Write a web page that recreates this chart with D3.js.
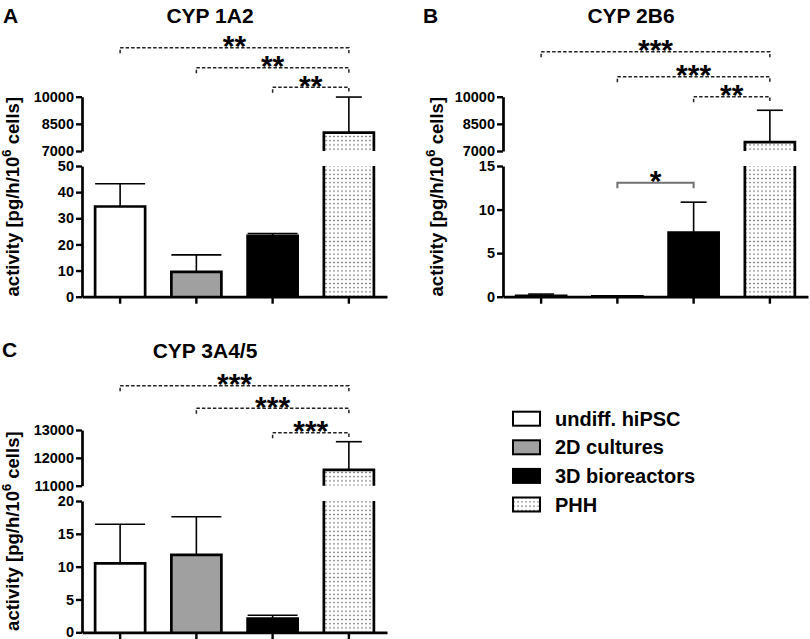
<!DOCTYPE html>
<html>
<head>
<meta charset="utf-8">
<script src="https://cdn.jsdelivr.net/npm/d3@7"></script>
<style>
  body { margin: 0; background: #fff; }
  text { font-family: "Liberation Sans", Arial, Helvetica, sans-serif; font-weight: bold; fill: #000; }
</style>
</head>
<body>
<script>
// groups shared by all three panels
var groups = ["undiff. hiPSC", "2D cultures", "3D bioreactors", "PHH"];

// CYP 1A2
var meanA = [34.5, 9.5, 23.3, 8010];
var sdA = [8.7, 6.5, 0.9, 1970];
var lowDomA = [0, 50], highDomA = [7000, 10000];
var lowTicksA = [0, 10, 20, 30, 40, 50], highTicksA = [7000, 8500, 10000];
var sigA = [[0, 3, "**"], [1, 3, "**"], [2, 3, "**"]];

// CYP 2B6
var meanB = [0.1, 0.04, 7.35, 7490];
var sdB = [0.2, 0.02, 3.5, 1760];
var lowDomB = [0, 15], highDomB = [7000, 10000];
var lowTicksB = [0, 5, 10, 15], highTicksB = [7000, 8500, 10000];
var sigB = [[0, 3, "***"], [1, 3, "***"], [2, 3, "**"], [1, 2, "*"]];

// CYP 3A4/5
var meanC = [10.5, 11.8, 2.1, 11565];
var sdC = [5.95, 5.8, 0.5, 1015];
var lowDomC = [0, 20], highDomC = [11000, 13000];
var lowTicksC = [0, 5, 10, 15, 20], highTicksC = [11000, 12000, 13000];
var sigC = [[0, 3, "***"], [1, 3, "***"], [2, 3, "***"]];

var fills = ["#ffffff", "#a0a0a0", "#000000", "url(#dots)"];

var panels = [
  { letter: "A", title: "CYP 1A2", mean: meanA, sd: sdA, low: lowDomA, high: highDomA,
    lowTicks: lowTicksA, highTicks: highTicksA, sig: sigA,
    x: 82, hiY: [96.7, 151], loY: [166, 296.7], titleX: 210, titleY: 23, letterX: 3, letterY: 23,
    labelX: 19, cap: 25, bracketY: [47.7, 67.7, 87.3] },
  { letter: "B", title: "CYP 2B6", mean: meanB, sd: sdB, low: lowDomB, high: highDomB,
    lowTicks: lowTicksB, highTicks: highTicksB, sig: sigB,
    x: 503, hiY: [96.7, 151], loY: [166, 296.7], titleX: 631, titleY: 23, letterX: 423, letterY: 23,
    labelX: 443, cap: 13, bracketY: [51.7, 76.7, 96.7, 182.7] },
  { letter: "C", title: "CYP 3A4/5", mean: meanC, sd: sdC, low: lowDomC, high: highDomC,
    lowTicks: lowTicksC, highTicks: highTicksC, sig: sigC,
    x: 82, hiY: [430, 485.7], loY: [501, 632.3], titleX: 205, titleY: 358, letterX: 2, letterY: 357,
    labelX: 19, cap: 25, bracketY: [385.7, 408.3, 432.7] }
];

var svg = d3.select("body").append("svg")
    .attr("width", 810)
    .attr("height", 639);

// dotted fill for PHH
var pat = svg.append("defs").append("pattern")
    .attr("id", "dots")
    .attr("patternUnits", "userSpaceOnUse")
    .attr("width", 4)
    .attr("height", 4.2);
pat.append("rect").attr("width", 4).attr("height", 4.2).attr("fill", "#fff");
pat.append("rect").attr("x", 1.4).attr("y", 1.5).attr("width", 1.2).attr("height", 1.2).attr("fill", "#333");

panels.forEach(function(p) {
    var g = svg.append("g");
    var plotW = 305;

    var x = d3.scaleBand()
        .domain(groups)
        .range([p.x, p.x + plotW])
        .paddingInner(0.344)
        .paddingOuter(0.172);

    var yLow = d3.scaleLinear().domain(p.low).range([p.loY[1], p.loY[0]]);
    var yHigh = d3.scaleLinear().domain(p.high).range([p.hiY[1], p.hiY[0]]);

    // bars
    groups.forEach(function(name, i) {
        var v = p.mean[i];
        var x0 = x(name), x1 = x0 + x.bandwidth();
        var outline;
        if (v <= p.low[1]) {
            g.append("rect")
                .attr("x", x0).attr("y", yLow(v))
                .attr("width", x.bandwidth()).attr("height", yLow(0) - yLow(v))
                .attr("fill", fills[i]);
            outline = "M" + x0 + "," + yLow(0) + "V" + yLow(v) + "H" + x1 + "V" + yLow(0);
        } else {
            g.append("rect")
                .attr("x", x0).attr("y", yLow(p.low[1]))
                .attr("width", x.bandwidth()).attr("height", yLow(0) - yLow(p.low[1]))
                .attr("fill", fills[i]);
            g.append("rect")
                .attr("x", x0).attr("y", yHigh(v))
                .attr("width", x.bandwidth()).attr("height", yHigh(p.high[0]) - yHigh(v))
                .attr("fill", fills[i]);
            outline = "M" + x0 + "," + yLow(0) + "V" + yLow(p.low[1]) +
                "M" + x1 + "," + yLow(0) + "V" + yLow(p.low[1]) +
                "M" + x0 + "," + yHigh(p.high[0]) + "V" + yHigh(v) + "H" + x1 + "V" + yHigh(p.high[0]);
        }
        g.append("path")
            .attr("d", outline)
            .attr("fill", "none")
            .attr("stroke", "#000")
            .attr("stroke-width", 2.7);

        // error bar (upper whisker only)
        var top = v + p.sd[i];
        var yTop = top <= p.low[1] ? yLow(top) : yHigh(top);
        var yBar = v <= p.low[1] ? yLow(v) : yHigh(v);
        var cx = x0 + x.bandwidth() / 2;
        var cap = v <= p.low[1] ? p.cap : 13;
        g.append("line")
            .attr("x1", cx).attr("x2", cx).attr("y1", yBar).attr("y2", yTop)
            .attr("stroke", "#000").attr("stroke-width", 1.6);
        g.append("line")
            .attr("x1", cx - cap).attr("x2", cx + cap).attr("y1", yTop).attr("y2", yTop)
            .attr("stroke", "#000").attr("stroke-width", 1.6);
    });

    // axes
    var fmt = d3.format("d");
    var axLow = g.append("g")
        .attr("transform", "translate(" + p.x + ",0)")
        .call(d3.axisLeft(yLow).tickValues(p.lowTicks).tickFormat(fmt)
            .tickSize(6).tickSizeOuter(0).tickPadding(2));
    var axHigh = g.append("g")
        .attr("transform", "translate(" + p.x + ",0)")
        .call(d3.axisLeft(yHigh).tickValues(p.highTicks).tickFormat(fmt)
            .tickSize(6).tickSizeOuter(0).tickPadding(2));
    var axX = g.append("g")
        .attr("transform", "translate(0," + yLow(0) + ")")
        .call(d3.axisBottom(x).tickSize(7).tickSizeOuter(0).tickFormat(""));

    [axLow, axHigh, axX].forEach(function(ax) {
        ax.select(".domain").attr("stroke", "#000").attr("stroke-width", 2.7);
        ax.selectAll(".tick line").attr("stroke", "#000").attr("stroke-width", 2.4);
        ax.selectAll(".tick text")
            .attr("font-size", 14.5)
            .attr("font-family", "'Liberation Sans', Arial, sans-serif")
            .attr("font-weight", "bold")
            .attr("fill", "#000");
    });

    // titles
    g.append("text")
        .attr("x", p.letterX).attr("y", p.letterY)
        .attr("font-size", 21)
        .text(p.letter);
    g.append("text")
        .attr("x", p.titleX).attr("y", p.titleY)
        .attr("text-anchor", "middle")
        .attr("font-size", 21)
        .text(p.title);

    // y-axis label
    var cy = (p.hiY[0] + p.loY[1]) / 2;
    var lab = g.append("text")
        .attr("transform", "translate(" + p.labelX + "," + cy + ") rotate(-90)")
        .attr("text-anchor", "middle")
        .attr("font-size", 18.5);
    lab.append("tspan").text("activity [pg/h/10");
    lab.append("tspan").attr("dy", -8).attr("font-size", 13).text("6");
    lab.append("tspan").attr("dy", 8).text(" cells]");

    // significance brackets
    p.sig.forEach(function(s, k) {
        var xa = x(groups[s[0]]) + x.bandwidth() / 2;
        var xb = x(groups[s[1]]) + x.bandwidth() / 2;
        var by = p.bracketY[k];
        var vsPHH = s[1] === 3;
        g.append("path")
            .attr("d", "M" + xa + "," + (by + 5.5) + "V" + by + "H" + xb + "V" + (by + 5.5))
            .attr("fill", "none")
            .attr("stroke", vsPHH ? "#222" : "#707070")
            .attr("stroke-width", vsPHH ? 1.5 : 2)
            .attr("stroke-dasharray", vsPHH ? "3.5,2" : null);
        g.append("text")
            .attr("x", (xa + xb) / 2)
            .attr("y", by + 8.5)
            .attr("text-anchor", "middle")
            .attr("font-size", 30)
            .text(s[2]);
    });
});

// legend
var legend = svg.append("g");
groups.forEach(function(name, i) {
    var cy = 418.7 + i * 28.6;
    legend.append("rect")
        .attr("x", 513).attr("y", cy - 7)
        .attr("width", 27).attr("height", 14)
        .attr("fill", fills[i])
        .attr("stroke", "#000")
        .attr("stroke-width", 2);
    legend.append("text")
        .attr("x", 555).attr("y", cy + 7)
        .attr("font-size", 20)
        .text(name);
});
</script>
</body>
</html>
